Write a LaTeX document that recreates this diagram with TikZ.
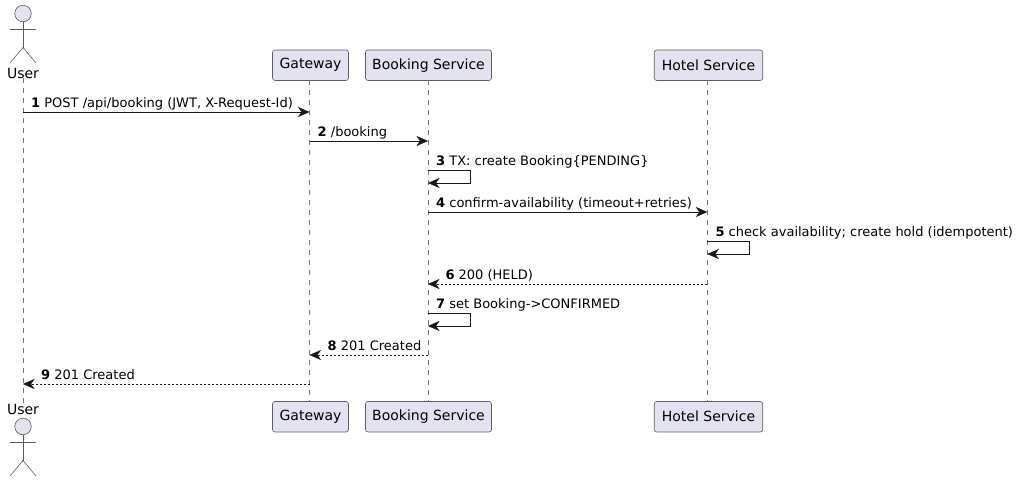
\documentclass[tikz,border=0pt]{standalone}
\usepackage{fontspec}
\setmainfont{DejaVu Sans}
\usepackage{tikz}
\usetikzlibrary{arrows.meta}
\definecolor{partfill}{HTML}{E2E2F0}
\definecolor{partline}{HTML}{181818}
\tikzset{
  partbox/.style={draw=partline!70,line width=.6pt,fill=partfill,rounded corners=2.5pt,
    minimum height=30.5pt,inner sep=0pt,font=\fontsize{14}{16}\selectfont},
  lifeline/.style={draw=partline!60,line width=.6pt,dash pattern=on 5pt off 5pt},
  actorline/.style={draw=partline!70,line width=.6pt},
  actorname/.style={inner sep=0pt,font=\fontsize{14}{16}\selectfont},
  msg/.style={draw=partline,line width=.9pt,-{Stealth[length=11.5pt,width=10pt,inset=3.5pt,line width=.3pt]}},
  reply/.style={msg,line width=.7pt,dash pattern=on 2pt off 2pt},
  msglab/.style={anchor=base west,inner sep=0pt,font=\fontsize{13}{15}\selectfont},
}
\begin{document}
\begin{tikzpicture}[x=1pt,y=-1pt]
  \useasboundingbox (0,0) rectangle (1019,482);
  % lifelines first, boxes on top
  \foreach \nm/\lab/\x/\lx/\w in {gate/Gateway/310.5/309.5/76,book/Booking Service/428.5/428/126,hotel/Hotel Service/708.5/707.3/108.5} {
    \node[partbox,minimum width=\w pt] (\nm top) at (\x,65.2) {\lab};
    \node[partbox,minimum width=\w pt] (\nm bot) at (\x,416.7) {\lab};
    \coordinate (\nm a) at (\lx,80);
    \coordinate (\nm b) at (\lx,402);
    \draw[lifeline] (\nm a) -- (\nm b);
  }
  % actor, top and bottom
  \node[actorname] (user top) at (23,73) {User};
  \node[actorname] (user bot) at (23,409) {User};
  \draw[lifeline] (user top) -- (user bot);
  \foreach \pl/\hy in {top/13.5,bot/426.5} {
    \node[circle,draw=partline!70,line width=.6pt,fill=partfill,minimum size=16.5pt,inner sep=0pt] (head \pl) at (23,\hy) {};
    \coordinate (hip \pl) at (23,\hy+34);
    \coordinate (arml \pl) at (10,\hy+15.5);
    \coordinate (armr \pl) at (36,\hy+15.5);
    \coordinate (legl \pl) at (10,\hy+49.5);
    \coordinate (legr \pl) at (36,\hy+49.5);
    \draw[actorline] (head \pl) -- (hip \pl);
    \draw[actorline] (arml \pl) -- (armr \pl);
    \draw[actorline] (legl \pl) -- (hip \pl) -- (legr \pl);
  }
  % plain messages
  \foreach \n/\xa/\xb/\y/\sty/\dx/\lab in {
    1/23/309.5/112/msg/8/{POST /api/booking (JWT, X-Request-Id)},
    2/309.5/428/141/msg/8/{/booking},
    4/428/707.3/212/msg/8/{confirm-availability (timeout+retries)},
    6/707.3/428/284/reply/-262/{200 (HELD)},
    8/428/309.5/355/reply/-100.5/{201 Created},
    9/309.5/23/384/reply/-268.5/{201 Created}} {
    \coordinate (m\n a) at (\xa,\y);
    \coordinate (m\n b) at (\xb,\y);
    \draw[\sty] (m\n a) -- (m\n b);
    \node[msglab] (lab\n) at ([xshift=\dx pt,yshift=5pt]m\n a) {\textbf{\n} \lab};
  }
  % self messages
  \foreach \n/\x/\y/\lab in {
    3/428/170/{TX: create Booking\{PENDING\}},
    5/707.3/241/{check availability; create hold (idempotent)},
    7/428/313/{set Booking->CONFIRMED}} {
    \coordinate (m\n a) at (\x,\y);
    \coordinate (m\n b) at (\x,\y+13);
    \draw[msg] (m\n a) -- ++(42.5,0) -- ++(0,13) -- (m\n b);
    \node[msglab] (lab\n) at ([xshift=8pt,yshift=5pt]m\n a) {\textbf{\n} \lab};
  }
\end{tikzpicture}
\end{document}
